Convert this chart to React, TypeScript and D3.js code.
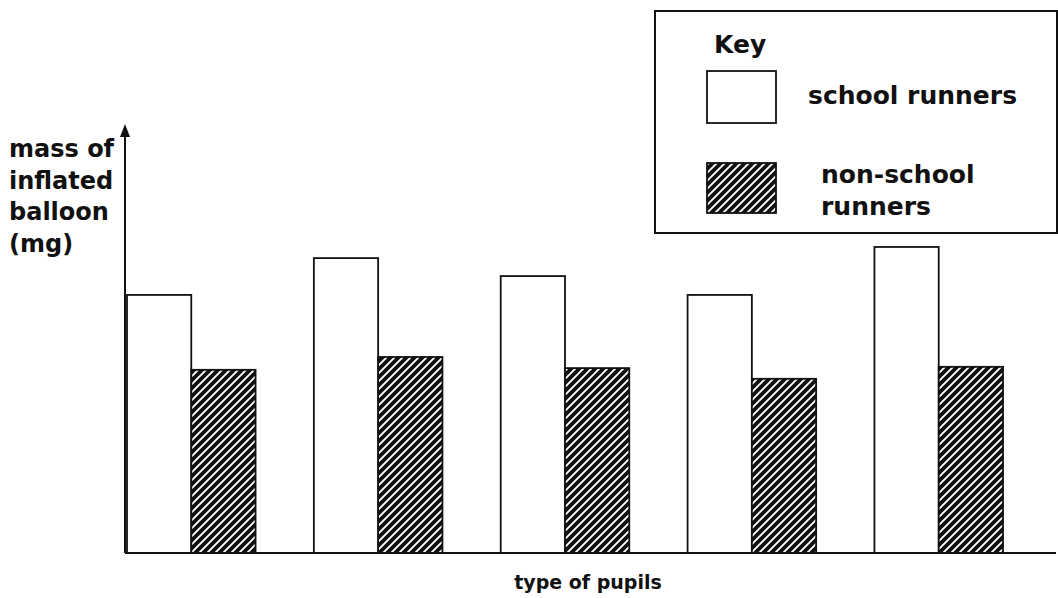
import React, { useEffect, useRef } from "react";
import * as d3 from "d3";

const groups = ["A", "B", "C", "D", "E"];
const series = ["school runners", "non-school runners"];
const schoolRunners = [6.03, 6.89, 6.47, 6.03, 7.15];
const nonSchoolRunners = [4.28, 4.58, 4.32, 4.07, 4.35];
const yLabelLines = ["mass of", "inflated", "balloon", "(mg)"];
const xLabel = "type of pupils";

const W = 1058;
const H = 598;

export default function App() {
  const ref = useRef<SVGSVGElement | null>(null);

  useEffect(() => {
    const svg = d3.select(ref.current);
    svg.selectAll("*").remove();

    const baseY = 553;
    const axisX = 125;
    const y = d3.scaleLinear().domain([0, 10]).range([baseY, 125]);
    const x0 = d3.scaleBand<string>().domain(groups).range([127, 1003]).paddingInner(0.312).paddingOuter(0);
    const x1 = d3.scaleBand<string>().domain(series).range([0, x0.bandwidth()]).padding(0);

    const defs = svg.append("defs");
    const pat = defs
      .append("pattern")
      .attr("id", "hatch")
      .attr("patternUnits", "userSpaceOnUse")
      .attr("width", 8)
      .attr("height", 8);
    pat.append("rect").attr("width", 8).attr("height", 8).attr("fill", "#111");
    pat
      .append("path")
      .attr("d", "M-2,2 L2,-2 M0,8 L8,0 M6,10 L10,6")
      .attr("stroke", "#fff")
      .attr("stroke-width", 1.9);

    const font = "'DejaVu Sans', sans-serif";
    const data = groups.map((g, i) => ({ g, vals: [schoolRunners[i], nonSchoolRunners[i]] }));

    const gBars = svg.append("g");
    data.forEach((d) => {
      d.vals.forEach((v, j) => {
        const s = series[j];
        gBars
          .append("rect")
          .attr("x", (x0(d.g) as number) + (x1(s) as number))
          .attr("y", y(v))
          .attr("width", x1.bandwidth())
          .attr("height", baseY - y(v))
          .attr("fill", j === 0 ? "#fff" : "url(#hatch)")
          .attr("stroke", "#111")
          .attr("stroke-width", 1.8);
      });
    });

    // axes
    svg
      .append("line")
      .attr("x1", axisX)
      .attr("x2", 1056)
      .attr("y1", baseY)
      .attr("y2", baseY)
      .attr("stroke", "#111")
      .attr("stroke-width", 2);
    svg
      .append("line")
      .attr("x1", axisX)
      .attr("x2", axisX)
      .attr("y1", baseY)
      .attr("y2", 130)
      .attr("stroke", "#111")
      .attr("stroke-width", 2);
    svg
      .append("path")
      .attr("d", `M${axisX - 5},${137} L${axisX},${124} L${axisX + 5},${137} Z`)
      .attr("fill", "#111");

    // y label
    yLabelLines.forEach((t, i) => {
      svg
        .append("text")
        .attr("x", 9)
        .attr("y", 157 + i * 31.5)
        .attr("font-family", font)
        .attr("font-weight", "bold")
        .attr("font-size", 24)
        .attr("fill", "#111")
        .text(t);
    });

    // x label
    svg
      .append("text")
      .attr("x", 588)
      .attr("y", 589)
      .attr("text-anchor", "middle")
      .attr("font-family", font)
      .attr("font-weight", "bold")
      .attr("font-size", 19)
      .attr("fill", "#111")
      .text(xLabel);

    // legend
    const lg = svg.append("g");
    lg.append("rect")
      .attr("x", 655)
      .attr("y", 11)
      .attr("width", 402)
      .attr("height", 222)
      .attr("fill", "#fff")
      .attr("stroke", "#111")
      .attr("stroke-width", 2);
    lg.append("text")
      .attr("x", 714)
      .attr("y", 53)
      .attr("font-family", font)
      .attr("font-weight", "bold")
      .attr("font-size", 25)
      .attr("fill", "#111")
      .text("Key");
    lg.append("rect")
      .attr("x", 707)
      .attr("y", 71)
      .attr("width", 69)
      .attr("height", 52)
      .attr("fill", "#fff")
      .attr("stroke", "#111")
      .attr("stroke-width", 1.8);
    lg.append("rect")
      .attr("x", 707)
      .attr("y", 163)
      .attr("width", 69)
      .attr("height", 50)
      .attr("fill", "url(#hatch)")
      .attr("stroke", "#111")
      .attr("stroke-width", 1.8);
    lg.append("text")
      .attr("x", 808)
      .attr("y", 104)
      .attr("font-family", font)
      .attr("font-weight", "bold")
      .attr("font-size", 25)
      .attr("fill", "#111")
      .text(series[0]);
    ["non-school", "runners"].forEach((t, i) => {
      lg.append("text")
        .attr("x", 821)
        .attr("y", 183 + i * 32)
        .attr("font-family", font)
        .attr("font-weight", "bold")
        .attr("font-size", 25)
        .attr("fill", "#111")
        .text(t);
    });
  }, []);

  return (
    <svg
      ref={ref}
      width={W}
      height={H}
      style={{ position: "absolute", left: 0, top: 0, background: "#fff" }}
    />
  );
}
